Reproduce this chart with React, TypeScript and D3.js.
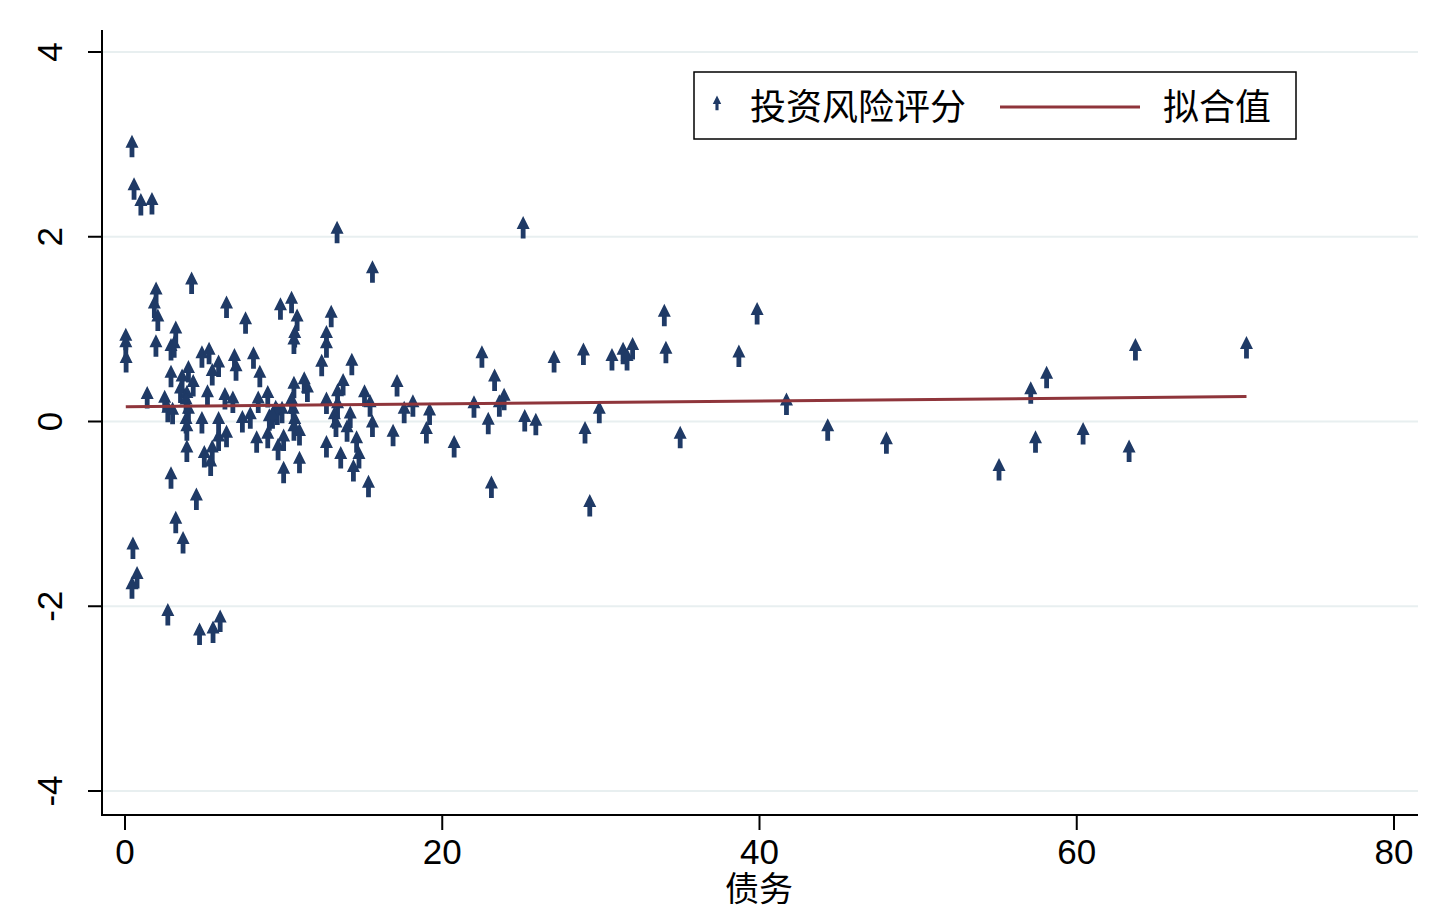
import React from "react";
import * as d3 from "d3";

// 债务 (x) and 投资风险评分 (y)
const debt: number[] = [
  0.44, 0.57, 1.0, 1.7, 13.37, 15.6, 1.96, 4.2, 1.85, 2.07,
  6.4, 7.6, 9.8, 10.5, 10.85, 13.0, 10.7, 10.65, 12.7, 12.7,
  0.05, 0.05, 0.07, 1.95, 3.2, 2.9, 3.1, 4.85, 5.3, 5.9,
  5.5, 6.9, 7.0, 8.1, 8.5, 2.9, 4.0, 3.6, 4.3, 3.5,
  3.9, 1.4, 2.5, 5.2, 6.3, 6.8, 8.4, 9.0, 3.85, 4.0,
  2.7, 3.0, 3.85, 3.9, 4.85, 5.9, 7.4, 7.9, 9.1, 9.6,
  9.9, 5.9, 6.4, 8.3, 9.0, 3.9, 5.0, 5.5, 5.4, 9.65,
  10.0, 2.9, 4.5, 3.2, 3.66, 0.5, 0.76, 0.44, 2.7, 4.7,
  5.55, 6.0, 14.3, 12.4, 17.15, 13.75, 13.4, 15.1, 15.45, 12.7,
  13.4, 18.15, 17.6, 13.2, 14.2, 14.0, 13.3, 15.6, 16.9, 14.6,
  12.7, 13.6, 14.75, 14.4, 15.35, 10.65, 11.3, 11.5, 10.5, 9.5,
  9.3, 10.6, 10.7, 10.65, 11.0, 10.0, 11.0, 19.2, 19.0, 20.75,
  22.0, 22.5, 22.9, 23.1, 23.3, 23.6, 23.9, 25.1, 25.2, 25.9,
  27.05, 28.9, 29.0, 29.3, 29.9, 30.7, 31.4, 31.65, 32.0, 34.0,
  34.1, 35.0, 38.7, 39.85, 41.7, 44.3, 48.0, 55.1, 57.1, 57.4,
  58.1, 60.4, 63.3, 63.7, 70.7,
];

const riskScore: number[] = [
  2.98, 2.52, 2.35, 2.36, 2.05, 1.62, 1.39, 1.5, 1.24, 1.1,
  1.24, 1.07, 1.22, 1.29, 1.1, 1.14, 0.92, 0.85, 0.92, 0.81,
  0.89, 0.82, 0.65, 0.82, 0.97, 0.78, 0.81, 0.7, 0.74, 0.6,
  0.51, 0.67, 0.56, 0.69, 0.49, 0.49, 0.54, 0.45, 0.39, 0.32,
  0.27, 0.26, 0.22, 0.28, 0.25, 0.21, 0.21, 0.27, 0.2, 0.1,
  0.11, 0.09, -0.01, -0.09, -0.01, -0.01, 0.0, 0.04, 0.02, 0.08,
  0.1, -0.2, -0.16, -0.22, -0.17, -0.32, -0.38, -0.32, -0.47, -0.3,
  -0.55, -0.61, -0.84, -1.09, -1.31, -1.37, -1.69, -1.8, -2.09, -2.3,
  -2.28, -2.16, 0.62, 0.61, 0.39, 0.4, 0.29, 0.28, 0.17, 0.2,
  0.16, 0.17, 0.1, 0.04, 0.05, -0.1, -0.05, -0.05, -0.15, -0.22,
  -0.27, -0.39, -0.39, -0.53, -0.7, 0.37, 0.42, 0.33, 0.2, 0.11,
  0.04, 0.1, -0.01, -0.09, -0.14, -0.2, -0.44, 0.08, -0.12, -0.27,
  0.16, 0.7, -0.02, -0.71, 0.45, 0.17, 0.24, 2.1, 0.01, -0.03,
  0.65, 0.73, -0.12, -0.91, 0.1, 0.67, 0.74, 0.67, 0.79, 1.15,
  0.75, -0.17, 0.71, 1.17, 0.19, -0.09, -0.23, -0.52, 0.31, -0.22,
  0.48, -0.13, -0.32, 0.78, 0.8,
];

// fitted line endpoints (拟合值)
const fitX: number[] = [0.05, 70.7];
const fitY: number[] = [0.16, 0.27];

const xTicks: number[] = [0, 20, 40, 60, 80];
const yTicks: number[] = [-4, -2, 0, 2, 4];

const legendLabels = ["投资风险评分", "拟合值"];
const xTitle = "债务";

const W = 1437;
const H = 913;
const left = 102;
const right = 1418;
const top = 30;
const bottom = 815;

const navy = "#1f3a66";
const maroon = "#8f353b";
const grid = "#e8eff0";
const num = "'Liberation Sans', Arial, sans-serif";
const cjk = "'Noto Sans CJK SC', sans-serif";

// upward arrow marker centred on the data point
const arrow = (s: number) =>
  `M0,${-11.5 * s} L${6.5 * s},${1.5 * s} L${2.4 * s},${1.5 * s} L${2.4 * s},${11 * s} L${-2.4 * s},${11 * s} L${-2.4 * s},${1.5 * s} L${-6.5 * s},${1.5 * s} Z`;

export default function App() {
  const x = d3.scaleLinear().domain([0, 80]).range([125, 1394]);
  const y = d3.scaleLinear().domain([-4, 4]).range([791, 52]);

  const points = debt.map((d, i) => ({ x: d, y: riskScore[i] }));
  const fit = d3
    .line<number>()
    .x((d) => x(d))
    .y((_, i) => y(fitY[i]));

  return (
    <svg
      width={W}
      height={H}
      style={{ position: "absolute", left: 0, top: 0, background: "#fff" }}
    >
      <rect width={W} height={H} fill="#fff" />
      {yTicks.map((t) => (
        <line key={"g" + t} x1={left} x2={right} y1={y(t)} y2={y(t)} stroke={grid} strokeWidth={2} />
      ))}

      {points.map((p, i) => (
        <path key={i} d={arrow(1)} transform={`translate(${x(p.x)},${y(p.y)})`} fill={navy} />
      ))}

      <path d={fit(fitX) ?? ""} stroke={maroon} strokeWidth={3} fill="none" />

      {/* axes */}
      <line x1={left} x2={left} y1={top} y2={bottom + 1} stroke="#000" strokeWidth={2} />
      <line x1={left - 1} x2={right} y1={bottom} y2={bottom} stroke="#000" strokeWidth={2} />
      {yTicks.map((t) => (
        <g key={"y" + t}>
          <line x1={88} x2={left} y1={y(t)} y2={y(t)} stroke="#000" strokeWidth={2} />
          <text
            transform={`translate(62,${y(t)}) rotate(-90)`}
            textAnchor="middle"
            fontFamily={num}
            fontSize={35}
          >
            {t}
          </text>
        </g>
      ))}
      {xTicks.map((t) => (
        <g key={"x" + t}>
          <line x1={x(t)} x2={x(t)} y1={bottom} y2={830} stroke="#000" strokeWidth={2} />
          <text x={x(t)} y={864} textAnchor="middle" fontFamily={num} fontSize={35}>
            {t}
          </text>
        </g>
      ))}
      <text x={759} y={901} textAnchor="middle" fontFamily={cjk} fontSize={34}>
        {xTitle}
      </text>

      {/* legend */}
      <rect x={694} y={72} width={602} height={67} fill="#fff" stroke="#000" strokeWidth={1.5} />
      <path d={arrow(0.65)} transform="translate(717,103)" fill={navy} />
      <text x={750} y={120} fontFamily={cjk} fontSize={36}>
        {legendLabels[0]}
      </text>
      <line x1={1000} x2={1140} y1={107} y2={107} stroke={maroon} strokeWidth={3} />
      <text x={1163} y={120} fontFamily={cjk} fontSize={36}>
        {legendLabels[1]}
      </text>
    </svg>
  );
}
